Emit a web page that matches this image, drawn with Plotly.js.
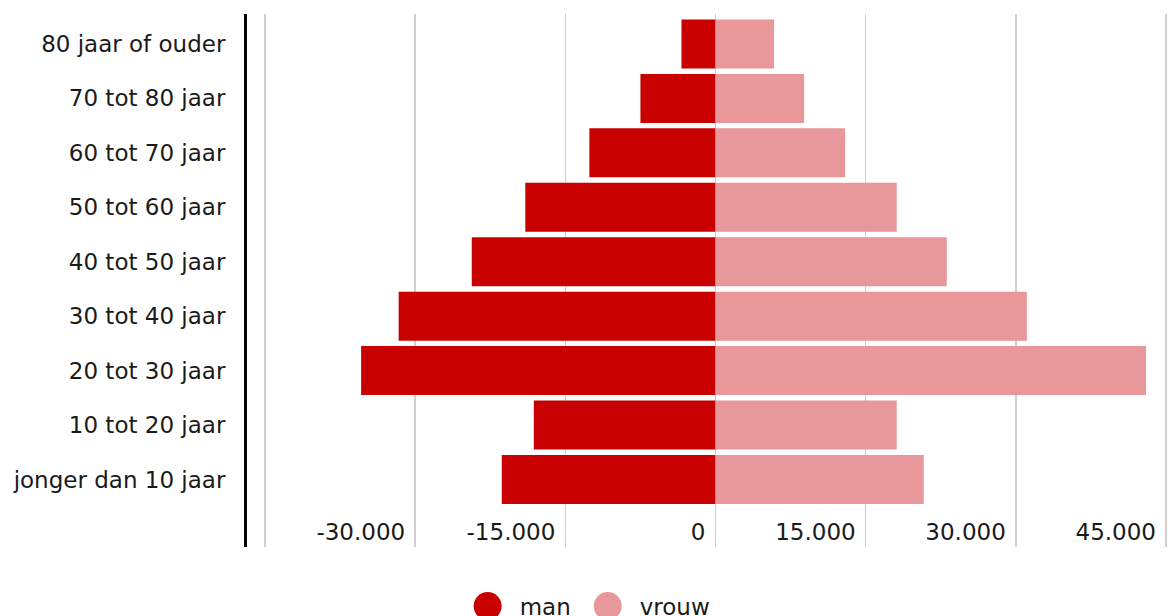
<!DOCTYPE html>
<html>
<head>
<meta charset="utf-8">
<script src="https://cdn.plot.ly/plotly-3.0.1.min.js"></script>
<style>html,body{margin:0;padding:0;background:#fff;}#chart{width:1168px;height:616px;}</style>
</head>
<body>
<div id="chart"></div>
<script>
var categories = ["jonger dan 10 jaar", "10 tot 20 jaar", "20 tot 30 jaar", "30 tot 40 jaar", "40 tot 50 jaar", "50 tot 60 jaar", "60 tot 70 jaar", "70 tot 80 jaar", "80 jaar of ouder"];
var manValues = [-21350, -18150, -35400, -31650, -24350, -19000, -12600, -7500, -3400];
var vrouwValues = [20800, 18100, 43000, 31100, 23100, 18100, 12950, 8850, 5850];
var tickValues = [-45000, -30000, -15000, 0, 15000, 30000, 45000];
var tickLabels = ["-45.000", "-30.000", "-15.000", "0", "15.000", "30.000", "45.000"];
var seriesNames = ["man", "vrouw"];
var seriesColors = ["#c80000", "#e8979a"];

var font = {family: "'DejaVu Sans', Verdana, sans-serif", size: 23, color: "#1a1a1a"};

var data = [
  {type: "bar", orientation: "h", name: seriesNames[0], y: categories, x: manValues,
   marker: {color: seriesColors[0]}, showlegend: false, hoverinfo: "y+x"},
  {type: "bar", orientation: "h", name: seriesNames[1], y: categories, x: vrouwValues,
   marker: {color: seriesColors[1]}, showlegend: false, hoverinfo: "y+x"},
  {type: "scatter", mode: "markers", name: seriesNames[0], x: [null], y: [null],
   marker: {color: seriesColors[0], size: 16, symbol: "circle"}, showlegend: true},
  {type: "scatter", mode: "markers", name: seriesNames[1], x: [null], y: [null],
   marker: {color: seriesColors[1], size: 16, symbol: "circle"}, showlegend: true}
];

var layout = {
  width: 1168, height: 616,
  margin: {l: 247, r: 0, t: 14, b: 69, pad: 0},
  paper_bgcolor: "#ffffff", plot_bgcolor: "#ffffff",
  font: font,
  barmode: "relative",
  bargap: 0.1,
  xaxis: {
    range: [-46800, 45200],
    tickvals: tickValues, ticktext: tickLabels,
    ticklabelposition: "inside left",
    ticklabelshift: -10,
    ticklabelstandoff: -4,
    showgrid: true, gridcolor: "#cfcfcf", gridwidth: 1.5,
    zeroline: false, showline: false, ticks: "",
    tickfont: font, fixedrange: true
  },
  yaxis: {
    type: "category",
    categoryorder: "array", categoryarray: categories,
    range: [-1.24, 8.55],
    showgrid: false, zeroline: false,
    showline: true, linecolor: "#000000", linewidth: 3,
    ticks: "", ticklabelstandoff: 14,
    tickfont: font, fixedrange: true
  },
  legend: {
    orientation: "h", xref: "container", x: 0.5014, xanchor: "center",
    yref: "container", y: 0.016, yanchor: "middle",
    font: font, itemwidth: 54,
    bgcolor: "rgba(0,0,0,0)"
  },
  showlegend: true
};

Plotly.newPlot("chart", data, layout, {displayModeBar: false, staticPlot: true}).then(function () {
  var pts = document.querySelectorAll("#chart .legend .legendpoints path.scatterpts");
  pts.forEach(function (p) {
    p.setAttribute("transform", (p.getAttribute("transform") || "") + " scale(1.75)");
  });
});
</script>
</body>
</html>
